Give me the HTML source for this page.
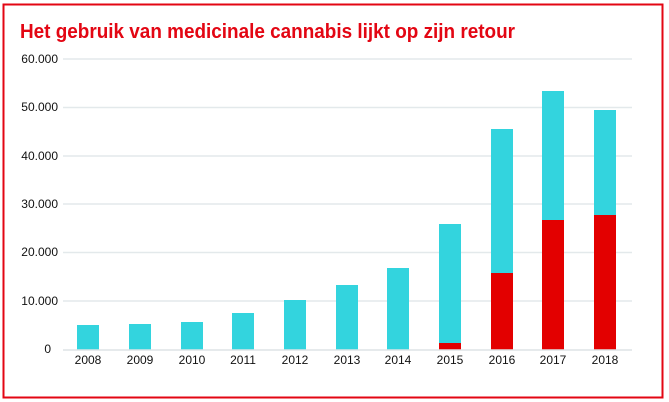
<!DOCTYPE html>
<html><head><meta charset="utf-8"><style>
html,body{margin:0;padding:0;background:#fff;width:669px;height:402px;overflow:hidden}
svg{display:block}
text{font-family:"Liberation Sans",sans-serif}
</style></head><body>
<svg width="669" height="402" viewBox="0 0 669 402">
<rect x="3.5" y="4.5" width="659" height="393" fill="none" stroke="#e30613" stroke-width="2"/>
<text x="20" y="38" font-size="20" font-weight="bold" fill="#e30613" textLength="495" lengthAdjust="spacingAndGlyphs">Het gebruik van medicinale cannabis lijkt op zijn retour</text>
<g stroke="#e3e9eb" stroke-width="1.5">
<line x1="63" y1="59" x2="632" y2="59"/><line x1="63" y1="107.5" x2="632" y2="107.5"/>
<line x1="63" y1="156" x2="632" y2="156"/><line x1="63" y1="204" x2="632" y2="204"/>
<line x1="63" y1="252.5" x2="632" y2="252.5"/><line x1="63" y1="301" x2="632" y2="301"/>
</g>
<g font-size="12" fill="#111" text-anchor="end">
<text x="58" y="63">60.000</text><text x="58" y="111">50.000</text><text x="58" y="160">40.000</text>
<text x="58" y="208">30.000</text><text x="58" y="256">20.000</text><text x="58" y="305">10.000</text>
<text x="51" y="353">0</text>
</g>
<g fill="#33d4de">
<rect x="77" y="325" width="22" height="24.5"/>
<rect x="129" y="324" width="22" height="25.5"/>
<rect x="181" y="322" width="22" height="27.5"/>
<rect x="232" y="313" width="22" height="36.5"/>
<rect x="284" y="300" width="22" height="49.5"/>
<rect x="336" y="285" width="22" height="64.5"/>
<rect x="387" y="268" width="22" height="81.5"/>
<rect x="439" y="224" width="22" height="125.5"/>
<rect x="491" y="129" width="22" height="220.5"/>
<rect x="542" y="91" width="22" height="258.5"/>
<rect x="594" y="110" width="22" height="239.5"/>
</g>
<g fill="#e30000">
<rect x="439" y="343" width="22" height="6.5"/>
<rect x="491" y="273" width="22" height="76.5"/>
<rect x="542" y="220" width="22" height="129.5"/>
<rect x="594" y="215" width="22" height="134.5"/>
</g>
<line x1="63" y1="350" x2="632" y2="350" stroke="#dde4e6" stroke-width="1.5"/>
<g font-size="12" fill="#111" text-anchor="middle">
<text x="88" y="364">2008</text><text x="140" y="364">2009</text><text x="192" y="364">2010</text>
<text x="243" y="364">2011</text><text x="295" y="364">2012</text><text x="347" y="364">2013</text>
<text x="398" y="364">2014</text><text x="450" y="364">2015</text><text x="502" y="364">2016</text>
<text x="553" y="364">2017</text><text x="605" y="364">2018</text>
</g>
</svg>
</body></html>
